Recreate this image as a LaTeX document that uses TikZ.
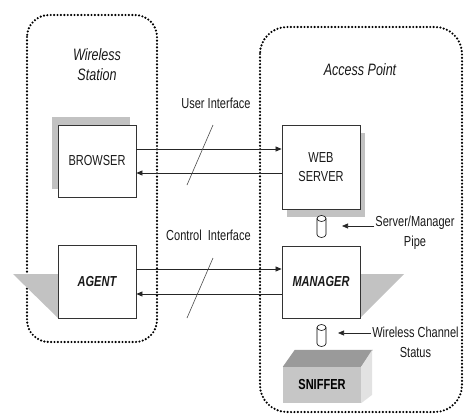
\documentclass[tikz,border=0pt]{standalone}
\usepackage{fontspec}
\setmainfont{Liberation Sans}[FakeStretch=0.76]
\usetikzlibrary{arrows.meta,shadows}

\definecolor{shadowgray}{HTML}{C2C2C2}
\definecolor{boxtop}{HTML}{9A9A9A}
\definecolor{boxfront}{HTML}{C6C6C6}
\definecolor{boxside}{HTML}{E2E2E2}

\tikzset{
  zone/.style={line width=2.4pt, dash pattern=on 0pt off 3.4pt, line cap=round, rounded corners=22pt},
  block/.style={draw=black!80, line width=0.8pt, fill=white, minimum width=78pt, align=center,
    inner sep=0pt, text=black!90},
  lbl/.style={align=center, inner sep=1pt, text=black!90},
  title/.style={lbl, font=\fontsize{16.5}{20}\selectfont\itshape},
  flow/.style={line width=0.7pt, draw=black!85, -{Triangle[length=6pt,width=5pt]}},
  note/.style={line width=0.7pt, draw=black!85, -{Triangle[length=6pt,width=5pt]}},
  tick/.style={line width=0.6pt, draw=black!70},
  pipe/.pic={
    \draw[line width=0.6pt, fill=white] (-4.5,-8) -- (-4.5,8)
      arc[start angle=180, end angle=0, x radius=4.5, y radius=3] -- (4.5,-8)
      arc[start angle=0, end angle=-180, x radius=4.5, y radius=3] -- cycle;
    \draw[line width=0.6pt] (-4.5,-8) arc[start angle=180, end angle=0, x radius=4.5, y radius=3];
  }
}

\begin{document}
\begin{tikzpicture}[x=1pt, y=-1pt, font=\fontsize{14.5}{19.5}\selectfont]
  \useasboundingbox (0,0) rectangle (464,415);

  % Dotted zones
  \draw[zone] (27,15) rectangle (157,342);
  \draw[zone, rounded corners=27pt] (260,27) rectangle (462,412);

  % Zone titles
  \node[title] (wsname) at (97,65) {Wireless\\Station};
  \node[title] (apname) at (360,70) {Access Point};

  % Blocks
  \node[block, minimum height=72pt,
    drop shadow={shadow xshift=-6pt, shadow yshift=8pt, fill=shadowgray, opacity=1}]
    (browser) at (97,161) {BROWSER};
  \node[block, minimum height=84pt,
    drop shadow={shadow xshift=5pt, shadow yshift=-8pt, fill=shadowgray, opacity=1}]
    (webserver) at (321,167) {WEB\\SERVER};

  % Triangular shadows
  \fill[shadowgray] (13,274) -- (58,274) -- (58,318) -- cycle;
  \fill[shadowgray] (360,274) -- (404,274) -- (360,318) -- cycle;

  \node[block, minimum height=73pt, font=\fontsize{14.5}{19.5}\selectfont\bfseries\itshape]
    (agent) at (97,281.5) {AGENT};
  \node[block, minimum height=72pt, font=\fontsize{14.5}{19.5}\selectfont\bfseries\itshape]
    (manager) at (321,282) {MANAGER};

  % Sniffer box
  \node[fill=boxfront, minimum width=78pt, minimum height=36pt, inner sep=0pt,
    font=\fontsize{14.5}{19.5}\selectfont\bfseries] (sniffer) at (322,385) {SNIFFER};
  \fill[boxtop] (sniffer.north west) -- ++(12,-17) -- ++(78,0) -- (sniffer.north east) -- cycle;
  \fill[boxside] (sniffer.north east) -- ++(11,-17) -- ++(0,45) -- (sniffer.south east) -- cycle;

  % Pipes
  \pic (srvpipe) at (321.5,226.5) {pipe};
  \pic (chanpipe) at (321.5,335.5) {pipe};

  % Interfaces
  \node[lbl] (uilabel) at (216,103) {User Interface};
  \node[lbl] (cilabel) at (208.5,235) {Control\ \ Interface};

  \draw[flow] (browser.east |- 0,149) -- (webserver.west |- 0,149);
  \draw[flow] (webserver.west |- 0,173) -- (browser.east |- 0,173);
  \draw[flow] (agent.east |- 0,269) -- (manager.west |- 0,269);
  \draw[flow] (manager.west |- 0,294) -- (agent.east |- 0,294);

  \draw[tick] (187,185) -- (213,125);
  \draw[tick] (187,318) -- (213,258);

  % Notes
  \node[lbl] (pipelabel) at (415,232.5) {Server/Manager\\Pipe};
  \node[lbl] (chanlabel) at (415.5,342.5) {Wireless Channel\\Status};
  \coordinate (pipetip) at (342,226);
  \coordinate (chantip) at (338,333);
  \draw[note] (pipelabel.west |- pipetip) -- (pipetip);
  \draw[note] (chanlabel.west |- chantip) -- (chantip);
\end{tikzpicture}
\end{document}
